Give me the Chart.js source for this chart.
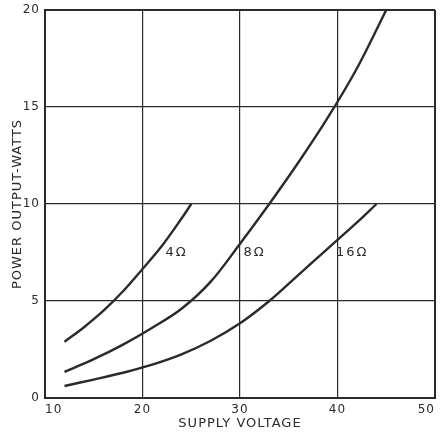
<!DOCTYPE html>
<html>
<head>
<meta charset="utf-8">
<script src="https://cdn.jsdelivr.net/npm/chart.js@4.4.1/dist/chart.umd.min.js"></script>
<style>
  html, body { margin: 0; padding: 0; background: #fff; }
  #wrap { width: 440px; height: 433px; }
</style>
</head>
<body>
<div id="wrap"><canvas id="powerChart" width="440" height="433"></canvas></div>
<script>
// curves: supply voltage (V) vs power output (W)
const volts4 = [12, 14, 16, 18, 20, 22, 24, 25];
const watts4 = [2.9, 3.65, 4.5, 5.5, 6.65, 7.85, 9.25, 10.0];

const volts8 = [12, 15, 18, 21, 24, 27, 30, 33, 36, 39, 42, 45];
const watts8 = [1.35, 2.0, 2.75, 3.62, 4.6, 6.0, 7.95, 10.0, 12.15, 14.45, 17.0, 20.0];

const volts16 = [12, 15, 18, 21, 24, 27, 30, 33, 36, 39, 42, 44];
const watts16 = [0.62, 0.95, 1.3, 1.72, 2.25, 2.95, 3.85, 5.0, 6.35, 7.7, 9.05, 10.0];

const curveNames = ["4\u03A9", "8\u03A9", "16\u03A9"];
// label anchor (voltage, watts) for each curve name
const labelVolts = [23.5, 31.5, 41.5];
const labelWatts = [7.5, 7.5, 7.5];

const xTicks = [10, 20, 30, 40, 50];
const yTicks = [0, 5, 10, 15, 20];

const ink = "#2a2a2a";

function toPoints(xs, ys) {
  return xs.map((x, i) => ({ x: x, y: ys[i] }));
}

function curve(xs, ys) {
  return {
    data: toPoints(xs, ys),
    showLine: true,
    borderColor: ink,
    borderWidth: 2.4,
    pointRadius: 0,
    tension: 0.35,
    fill: false
  };
}

// old drawing lettering is spaced out a bit
const spacedText = {
  id: "spacedText",
  beforeDraw(chart) {
    chart.ctx.letterSpacing = "1px";
  }
};

// writes the 4Ω / 8Ω / 16Ω names next to the curves
const curveLabels = {
  id: "curveLabels",
  afterDatasetsDraw(chart) {
    const ctx = chart.ctx;
    const xs = chart.scales.x, ys = chart.scales.y;
    ctx.save();
    ctx.fillStyle = ink;
    ctx.font = "13px 'DejaVu Sans'";
    ctx.letterSpacing = "2px";
    ctx.textAlign = "center";
    ctx.textBaseline = "middle";
    curveNames.forEach((name, i) => {
      ctx.fillText(name, xs.getPixelForValue(labelVolts[i]), ys.getPixelForValue(labelWatts[i]));
    });
    ctx.restore();
  }
};

const edgeWidth = (ctx) => (ctx.index === 0 || ctx.index === 4) ? 2 : 1.2;

new Chart(document.getElementById("powerChart"), {
  type: "scatter",
  data: {
    datasets: [curve(volts4, watts4), curve(volts8, watts8), curve(volts16, watts16)]
  },
  options: {
    responsive: false,
    animation: false,
    layout: { padding: { top: 10, right: 5, left: 0, bottom: 0 } },
    plugins: {
      legend: { display: false },
      tooltip: { enabled: false }
    },
    scales: {
      x: {
        type: "linear",
        min: 10,
        max: 50,
        afterFit: (scale) => {
          scale.height = 35;
          scale.paddingLeft = 0;
          scale.paddingRight = 0;
        },
        afterBuildTicks: (scale) => { scale.ticks = xTicks.map(v => ({ value: v })); },
        grid: { color: ink, lineWidth: edgeWidth, drawTicks: false },
        border: { display: true, color: ink, width: 2 },
        ticks: { color: ink, padding: 5, align: "inner", font: { family: "DejaVu Sans", size: 12 } },
        title: {
          display: true,
          text: "SUPPLY VOLTAGE",
          color: ink,
          padding: { top: 0, bottom: 2 },
          font: { family: "DejaVu Sans", size: 13 }
        }
      },
      y: {
        type: "linear",
        min: 0,
        max: 20,
        afterFit: (scale) => {
          scale.width = 45;
          scale.paddingTop = 0;
          scale.paddingBottom = 0;
        },
        afterBuildTicks: (scale) => { scale.ticks = yTicks.map(v => ({ value: v })); },
        grid: { color: ink, lineWidth: edgeWidth, drawTicks: false },
        border: { display: true, color: ink, width: 2 },
        ticks: { color: ink, padding: 5, font: { family: "DejaVu Sans", size: 12 } },
        title: {
          display: true,
          text: "POWER OUTPUT-WATTS",
          color: ink,
          padding: { top: 10, bottom: 0 },
          font: { family: "DejaVu Sans", size: 13 }
        }
      }
    }
  },
  plugins: [spacedText, curveLabels]
});
</script>
</body>
</html>
